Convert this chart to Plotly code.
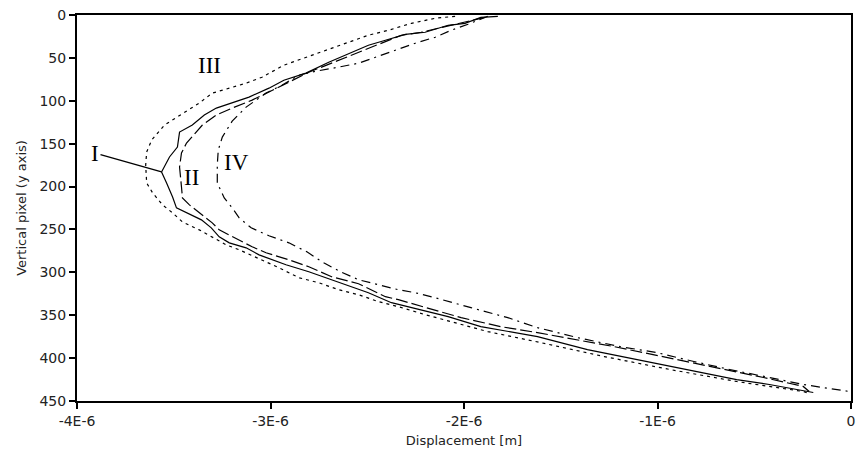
import plotly.graph_objects as go

# Curve I (solid)
I_x = [-1.825, -1.913, -1.995, -2.082, -2.201, -2.303, -2.406, -2.494, -2.699, -2.817, -2.931, -3.008,
       -3.111, -3.198, -3.280, -3.342, -3.404, -3.470, -3.481, -3.522, -3.563, -3.537, -3.506, -3.486,
       -3.434, -3.357, -3.306, -3.265, -3.213, -3.126, -3.059, -2.920, -2.802, -2.715, -2.612, -2.494,
       -2.375, -2.272, -2.082, -1.913, -1.620, -1.362, -1.105, -0.848, -0.591, -0.422, -0.195]
I_y = [1.5, 2.7, 9.7, 12.0, 20.1, 22.5, 29.4, 35.3, 55.0, 67.8, 76.0, 85.3,
       95.7, 102.7, 108.5, 116.7, 128.3, 136.5, 153.9, 165.5, 183.0, 195.8, 212.1, 224.9,
       230.7, 238.8, 248.1, 258.6, 265.6, 271.4, 279.6, 291.2, 299.3, 306.3, 314.5, 323.8,
       335.4, 341.2, 351.7, 363.3, 374.9, 390.1, 401.7, 413.3, 425.0, 430.8, 440.1]

# Curve II (dashed)
II_x = [-1.892, -2.031, -2.221, -2.324, -2.494, -2.648, -2.802, -2.905, -3.008, -3.095, -3.198, -3.280,
        -3.352, -3.434, -3.460, -3.470, -3.460, -3.455, -3.419, -3.368, -3.301, -3.265, -3.213, -3.162,
        -3.095, -3.023, -2.905, -2.802, -2.684, -2.545, -2.406, -2.339, -2.015, -1.810, -1.620, -1.224,
        -0.848, -0.452, -0.247, -0.216]
II_y = [2.7, 9.7, 20.1, 23.6, 38.7, 52.7, 66.7, 78.3, 89.9, 99.2, 108.5, 116.7,
        128.3, 149.3, 160.9, 177.2, 200.5, 213.3, 221.4, 230.7, 242.3, 250.5, 256.3, 262.1,
        270.2, 277.2, 285.4, 293.5, 305.1, 313.3, 328.4, 331.9, 352.8, 363.3, 370.3, 386.6,
        404.0, 422.6, 433.0, 438.9]

# Curve III (dotted)
III_x = [-2.046, -2.149, -2.272, -2.391, -2.494, -2.612, -2.787, -2.931, -3.044, -3.126, -3.213, -3.301,
         -3.368, -3.470, -3.548, -3.614, -3.640, -3.645, -3.640, -3.609, -3.558, -3.506, -3.455, -3.368,
         -3.301, -3.229, -3.162, -3.059, -2.956, -2.853, -2.751, -2.648, -2.545, -2.442, -2.339, -2.201,
         -2.046, -1.877, -1.604, -1.275, -0.936, -0.591, -0.247, -0.216]
III_y = [1.5, 3.8, 9.7, 17.8, 23.6, 32.9, 46.9, 58.5, 72.5, 79.5, 85.3, 91.1,
         102.7, 116.7, 128.3, 145.8, 159.7, 174.8, 195.8, 207.4, 221.4, 230.7, 241.2, 250.5,
         258.6, 267.9, 273.7, 284.2, 294.7, 306.3, 312.1, 320.3, 326.1, 334.2, 340.1, 349.3,
         358.7, 369.1, 381.9, 398.2, 413.3, 427.3, 438.9, 441.2]

# Curve IV (dash-dot)
IV_x = [-1.877, -1.979, -2.067, -2.149, -2.252, -2.355, -2.458, -2.545, -2.648, -2.766, -2.853, -2.941,
        -3.023, -3.126, -3.198, -3.249, -3.270, -3.275, -3.275, -3.239, -3.198, -3.162, -3.100, -3.008,
        -2.905, -2.812, -2.725, -2.638, -2.545, -2.442, -2.339, -2.252, -2.149, -1.964, -1.774, -1.620,
        -1.414, -1.193, -1.003, -0.812, -0.627, -0.422, -0.247, -0.010]
IV_y = [1.5, 10.8, 17.8, 25.9, 32.9, 41.1, 49.2, 56.2, 60.8, 65.5, 70.1, 81.8,
        91.1, 107.4, 123.7, 142.3, 157.4, 174.8, 195.8, 213.3, 224.9, 236.5, 248.1, 257.4,
        265.6, 276.1, 288.9, 299.3, 308.6, 314.5, 320.3, 323.8, 329.6, 341.2, 352.8, 364.5,
        376.1, 386.6, 393.6, 404.0, 413.3, 422.6, 430.8, 438.9]

# curve labels (x in 1E-6 m, y in pixels)
label_text = ["III", "II", "IV"]
label_x = [-3.316, -3.409, -3.177]
label_y = [58.5, 190.0, 172.5]
I_label_x = -3.907
I_label_y = 160.9

x_range = [-4, 0]
y_range = [450, 0]
x_tickvals = [-4, -3, -2, -1, 0]
x_ticktext = ["-4E-6", "-3E-6", "-2E-6", "-1E-6", "0"]
y_tickvals = [0, 50, 100, 150, 200, 250, 300, 350, 400, 450]

S = 1e-6
axis_line = "black"
fig = go.Figure()

styles = [
    (I_x, I_y, "solid", "I"),
    (II_x, II_y, "12px,4px", "II"),
    (III_x, III_y, "3px,4px", "III"),
    (IV_x, IV_y, "9px,5px,2px,5px", "IV"),
]
for xs, ys, dash, name in styles:
    fig.add_trace(go.Scatter(
        x=[v * S for v in xs], y=ys, mode="lines", name=name,
        line=dict(color="black", width=1.2, dash=dash),
        showlegend=False, hoverinfo="skip", cliponaxis=False))

serif = dict(family="Liberation Serif, Times New Roman, serif", size=23, color="black")
for t, lx, ly in zip(label_text, label_x, label_y):
    fig.add_annotation(x=lx * S, y=ly, text=t, showarrow=False, font=serif,
                       xref="x", yref="y")

vi = I_x.index(min(I_x))
fig.add_annotation(x=I_x[vi] * S, y=I_y[vi], xref="x", yref="y",
                   ax=I_label_x * S, ay=I_label_y, axref="x", ayref="y",
                   text="I", font=serif, showarrow=True, arrowhead=0,
                   arrowwidth=1.3, arrowcolor="black", standoff=0)

tick_font = dict(family="DejaVu Sans", size=14, color="#222")
title_font = dict(family="DejaVu Sans", size=13, color="#222")
fig.update_xaxes(
    range=[x_range[0] * S, x_range[1] * S], tickvals=[v * S for v in x_tickvals], ticktext=x_ticktext,
    showgrid=False, zeroline=False, showline=True, mirror=True,
    linecolor=axis_line, linewidth=2, ticklabeloverflow="allow",
    ticks="outside", ticklen=6, tickwidth=1.5, tickcolor=axis_line,
    tickfont=tick_font,
    title=dict(text="Displacement [m]", font=title_font, standoff=8))
fig.update_yaxes(
    range=y_range, tickvals=y_tickvals,
    showgrid=False, zeroline=False, showline=True, mirror=True,
    linecolor=axis_line, linewidth=2, ticklabeloverflow="allow",
    ticks="outside", ticklen=6, tickwidth=1.5, tickcolor=axis_line,
    tickfont=tick_font,
    title=dict(text="Vertical pixel (y axis)", font=title_font, standoff=10))

fig.update_layout(
    width=859, height=461, margin=dict(l=77, r=4, t=15, b=60),
    paper_bgcolor="white", plot_bgcolor="white")

fig.write_html("out.html")
